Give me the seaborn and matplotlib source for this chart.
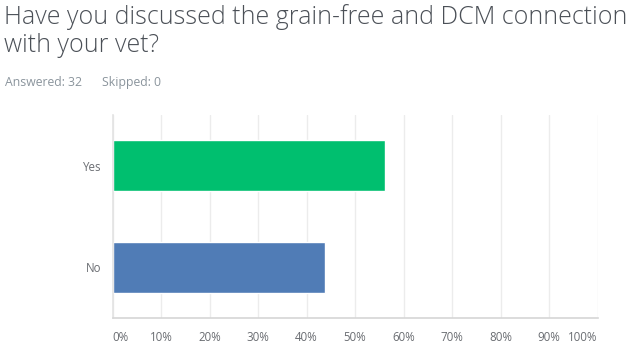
import matplotlib
matplotlib.use("Agg")
import matplotlib.pyplot as plt
import seaborn as sns
import pandas as pd
from matplotlib.ticker import FuncFormatter

categories = ["Yes", "No"]
percent = [56.25, 43.75]
colors = ["#00BF6F", "#507CB6"]
xticks = [0, 10, 20, 30, 40, 50, 60, 70, 80, 90, 100]
title_lines = ["Have you discussed the grain-free and DCM connection", "with your vet?"]
subtitle_answered = "Answered: 32"
subtitle_skipped = "Skipped: 0"

sns.set_style("white")
plt.rcParams["font.family"] = ["Open Sans", "DejaVu Sans"]

df = pd.DataFrame({"answer": categories, "pct": percent})

fig = plt.figure(figsize=(6.4, 3.48), dpi=100)
ax = fig.add_axes([0.1758, 0.0862, 0.7578, 0.5833])

sns.barplot(data=df, x="pct", y="answer", hue="answer", palette=colors,
            order=categories, hue_order=categories, width=0.5, legend=False,
            saturation=1, ax=ax)

ax.set_xlim(0, 100)
ax.set_xticks(xticks)
ax.xaxis.set_major_formatter(FuncFormatter(lambda v, p: f"{int(v)}%"))
ax.set_xlabel("")
ax.set_ylabel("")
ax.grid(axis="x", color="#ececec", linewidth=1)
ax.set_axisbelow(True)
for s in ["top", "right"]:
    ax.spines[s].set_visible(False)
ax.spines["left"].set_color("#e3e3e3")
ax.spines["bottom"].set_color("#d6d6d6")
ax.spines["left"].set_linewidth(1.2)
ax.spines["bottom"].set_linewidth(1.2)
ax.tick_params(axis="both", length=0, labelsize=8.3, labelcolor="#6a6d72")
ax.tick_params(axis="x", pad=9)
ax.tick_params(axis="y", pad=8)
lbls = ax.get_xticklabels()
lbls[0].set_horizontalalignment("left")
lbls[-1].set_horizontalalignment("right")

for i, line in enumerate(title_lines):
    fig.text(4 / 640, 1 - (24 + 28.5 * i) / 348, line, ha="left", va="baseline",
             fontsize=18, color="#4b5057", fontweight="light")
fig.text(5 / 640, 1 - 86 / 348, subtitle_answered, ha="left", va="baseline",
         fontsize=8.8, color="#8a949c")
fig.text(102 / 640, 1 - 86 / 348, subtitle_skipped, ha="left", va="baseline",
         fontsize=8.8, color="#8a949c")

fig.savefig("out.png", dpi=100)
